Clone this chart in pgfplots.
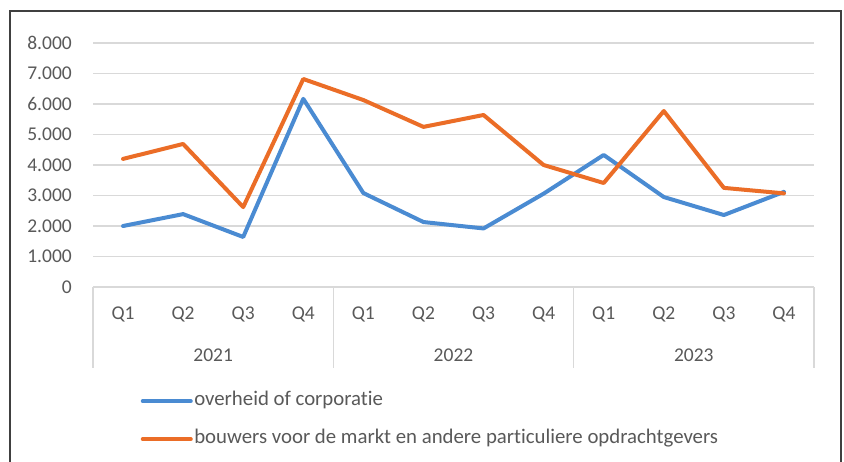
\documentclass[border=0pt]{standalone}
\usepackage{fontspec}
\setmainfont{Carlito}[Ligatures=NoCommon]
\usepackage{pgfplots}
\pgfplotsset{compat=1.18}
\definecolor{cblue}{HTML}{4A8BD2}
\definecolor{corange}{HTML}{EB6D27}
\definecolor{gridc}{HTML}{D9D9D9}
\definecolor{txt}{HTML}{595959}
\begin{document}
\fontsize{19.5bp}{23bp}\selectfont
\begin{tikzpicture}
\useasboundingbox (0,0) rectangle (844bp,-462bp);
\fill[white] (0,0) rectangle (844bp,-462bp);
\draw[line width=2.5bp, color=black!75] (10bp,-11bp) rectangle (841bp,-490bp);
\begin{axis}[
  at={(93bp,-287bp)}, anchor=south west,
  scale only axis, width=721bp, height=244bp,
  xmin=-0.5, xmax=11.5, ymin=0, ymax=8000,
  clip=false,
  axis line style={draw=none},
  major tick length=0pt,
  ytick={0,1000,...,8000},
  ymajorgrids, grid style={color=gridc, line width=1.5bp},
  scaled y ticks=false,
  /pgf/number format/1000 sep={.},
  /pgf/number format/assume math mode=true,
  yticklabel style={anchor=east, inner sep=0pt, xshift=-21bp, text=txt},
  xtick={0,...,11},
  xticklabels={Q1,Q2,Q3,Q4,Q1,Q2,Q3,Q4,Q1,Q2,Q3,Q4},
  xticklabel style={anchor=center, inner sep=0pt, yshift=-27bp, text=txt},
  legend cell align=left,
  legend style={at={(0.066,-0.422)}, anchor=north west, draw=none, fill=none,
    inner sep=0pt, row sep=16bp,
    nodes={text=txt, inner sep=1.5bp, text height=14bp, text depth=5bp,
      font=\fontsize{20.8bp}{24bp}\selectfont}},
  legend image code/.code={\draw[#1, line width=4bp] (0bp,0bp) -- (48bp,0bp);},
]
\addplot[cblue, line width=4bp, line join=round, line cap=round] coordinates {
 (0,2000) (1,2390) (2,1640) (3,6170) (4,3080) (5,2130) (6,1920) (7,3060)
 (8,4330) (9,2950) (10,2360) (11,3120)};
\addlegendentry{overheid of corporatie}
\addplot[corange, line width=4bp, line join=round, line cap=round] coordinates {
 (0,4200) (1,4690) (2,2620) (3,6820) (4,6130) (5,5250) (6,5640) (7,4000)
 (8,3410) (9,5770) (10,3250) (11,3070)};
\addlegendentry{bouwers voor de markt en andere particuliere opdrachtgevers}
\draw[gridc, line width=1.5bp] (axis cs:-0.5,0) -- (axis cs:11.5,0);
\pgfplotsinvokeforeach{-0.5,3.5,7.5,11.5}{
  \draw[gridc, line width=1.5bp] (axis cs:#1,0) -- ++(0pt,-81bp);
}
\node[text=txt, yshift=-68bp] at (axis cs:1.5,0) {2021};
\node[text=txt, yshift=-68bp] at (axis cs:5.5,0) {2022};
\node[text=txt, yshift=-68bp] at (axis cs:9.5,0) {2023};
\end{axis}
\end{tikzpicture}
\end{document}
